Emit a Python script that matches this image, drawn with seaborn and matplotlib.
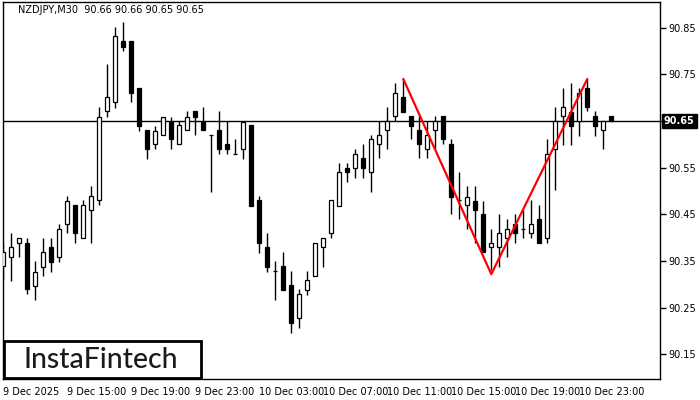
import matplotlib
matplotlib.use("Agg")
import matplotlib.pyplot as plt
import seaborn as sns
import numpy as np
import pandas as pd
from matplotlib.patches import Rectangle

# ---------------- data ----------------
opens = [90.340, 90.359, 90.389, 90.389, 90.297, 90.337, 90.380, 90.359, 90.430, 90.470,
         90.400, 90.459, 90.481, 90.671, 90.691, 90.821, 90.821, 90.721, 90.631, 90.601,
         90.620, 90.648, 90.601, 90.631, 90.671, 90.648, 90.620, 90.631, 90.601, 90.579,
         90.590, 90.641, 90.481, 90.380, 90.329, 90.340, 90.299, 90.228, 90.288, 90.318,
         90.380, 90.410, 90.468, 90.549, 90.549, 90.571, 90.541, 90.601, 90.631, 90.661,
         90.701, 90.661, 90.631, 90.590, 90.631, 90.661, 90.601, 90.481, 90.470, 90.479,
         90.451, 90.380, 90.380, 90.400, 90.430, 90.419, 90.410, 90.440, 90.400, 90.590,
         90.661, 90.669, 90.650, 90.721, 90.661, 90.631, 90.660]
highs = [90.389, 90.410, 90.400, 90.400, 90.350, 90.400, 90.400, 90.430, 90.489, 90.470,
         90.481, 90.511, 90.680, 90.772, 90.851, 90.862, 90.821, 90.721, 90.631, 90.639,
         90.659, 90.659, 90.650, 90.671, 90.671, 90.680, 90.620, 90.671, 90.650, 90.611,
         90.650, 90.641, 90.489, 90.410, 90.350, 90.370, 90.329, 90.290, 90.329, 90.389,
         90.400, 90.481, 90.560, 90.560, 90.590, 90.601, 90.620, 90.650, 90.680, 90.731,
         90.740, 90.661, 90.661, 90.650, 90.661, 90.661, 90.611, 90.541, 90.511, 90.511,
         90.479, 90.419, 90.451, 90.440, 90.451, 90.459, 90.481, 90.470, 90.611, 90.680,
         90.721, 90.731, 90.721, 90.740, 90.671, 90.650, 90.660]
lows = [90.310, 90.307, 90.359, 90.280, 90.267, 90.318, 90.327, 90.348, 90.410, 90.389,
        90.400, 90.389, 90.470, 90.659, 90.678, 90.800, 90.691, 90.629, 90.569, 90.590,
        90.620, 90.590, 90.601, 90.631, 90.620, 90.631, 90.498, 90.579, 90.579, 90.579,
        90.569, 90.468, 90.367, 90.327, 90.267, 90.288, 90.196, 90.207, 90.277, 90.318,
        90.337, 90.400, 90.468, 90.519, 90.528, 90.528, 90.498, 90.571, 90.590, 90.650,
        90.669, 90.611, 90.571, 90.571, 90.590, 90.601, 90.451, 90.440, 90.419, 90.389,
        90.370, 90.331, 90.337, 90.359, 90.389, 90.400, 90.400, 90.389, 90.389, 90.502,
        90.599, 90.599, 90.618, 90.671, 90.618, 90.590, 90.650]
closes = [90.370, 90.380, 90.400, 90.290, 90.327, 90.370, 90.348, 90.419, 90.479, 90.410,
          90.470, 90.489, 90.659, 90.701, 90.832, 90.808, 90.710, 90.639, 90.590, 90.629,
          90.659, 90.611, 90.641, 90.659, 90.659, 90.631, 90.620, 90.590, 90.590, 90.579,
          90.648, 90.468, 90.389, 90.337, 90.329, 90.288, 90.218, 90.280, 90.310, 90.389,
          90.400, 90.481, 90.541, 90.541, 90.579, 90.549, 90.611, 90.620, 90.650, 90.710,
          90.669, 90.639, 90.601, 90.620, 90.650, 90.611, 90.487, 90.481, 90.487, 90.459,
          90.370, 90.389, 90.410, 90.419, 90.410, 90.419, 90.430, 90.389, 90.579, 90.650,
          90.680, 90.639, 90.710, 90.680, 90.639, 90.650, 90.650]

pattern_bars = [50, 61, 73]
pattern_prices = [90.740, 90.322, 90.740]

price_ticks = [90.15, 90.25, 90.35, 90.45, 90.55, 90.75, 90.85]
current_price = 90.65
time_tick_bars = [0, 8, 16, 24, 32, 40, 48, 56, 64, 72]
time_tick_labels = ["9 Dec 2025", "9 Dec 15:00", "9 Dec 19:00", "9 Dec 23:00",
                    "10 Dec 03:00", "10 Dec 07:00", "10 Dec 11:00", "10 Dec 15:00",
                    "10 Dec 19:00", "10 Dec 23:00"]
title_text = "NZDJPY,M30  90.66 90.66 90.65 90.65"
logo_text = "InstaFintech"

# ---------------- figure ----------------
sns.set_style("white")
plt.rcParams['font.family'] = ['DejaVu Sans']

W, H = 700, 400
fig = plt.figure(figsize=(7, 4), dpi=100)
left, right, top, bottom = 2.5, 660, 2, 379
ax = fig.add_axes([left / W, 1 - bottom / H, (right - left) / W, (bottom - top) / H])

df = pd.DataFrame({"o": opens, "h": highs, "l": lows, "c": closes})
df["x"] = np.arange(len(df))
df["bull"] = df["c"] >= df["o"]

ax.set_xlim(-0.1, 82.09)
ax.set_ylim(90.0975, 90.9048)

# current price line
ax.axhline(current_price, color="black", lw=1, zorder=1)

# wicks
ax.vlines(df["x"], df["l"], df["h"], color="black", lw=1, zorder=2)
# bodies
body_bottom = np.minimum(df["o"], df["c"])
body_h = np.maximum(np.abs(df["c"] - df["o"]), 0.0004)
colors = np.where(df["bull"], "white", "black")
ax.bar(df["x"], body_h, bottom=body_bottom, width=0.45, color=colors,
       edgecolor="black", linewidth=0.9, zorder=3)

# double-bottom pattern
sns.lineplot(x=pattern_bars, y=pattern_prices, ax=ax, color="#ff0000", lw=1.6,
             sort=False, zorder=4)

# axes styling
for s in ax.spines.values():
    s.set_color("black")
    s.set_linewidth(1)
    s.set_visible(True)

ax.yaxis.tick_right()
ax.set_yticks(price_ticks + [current_price])
ax.set_yticklabels([f"{v:.2f}" for v in price_ticks] + [""])
ax.tick_params(axis="y", direction="out", length=4, width=1, color="black",
               labelsize=7, pad=2, labelcolor="black")
ax.set_xticks(time_tick_bars)
ax.set_xticklabels(time_tick_labels, ha="left")
ax.tick_params(axis="x", direction="out", length=4, width=1, color="black",
               labelsize=7, pad=2, labelcolor="black")
for lbl in ax.get_xticklabels():
    lbl.set_horizontalalignment("left")
ax.set_xlabel("")
ax.set_ylabel("")

# current price box
ax.text(1.006, current_price, f"{current_price:.2f}", transform=ax.get_yaxis_transform(),
        ha="left", va="center", fontsize=7, color="white", fontweight="bold",
        bbox=dict(boxstyle="square,pad=0.25", facecolor="black", edgecolor="black"),
        clip_on=False, zorder=10)

# title
fig.text(18 / W, 1 - 10 / H, title_text, fontsize=7, color="black", ha="left", va="center")

# logo
fig.patches.append(Rectangle((3.5 / W, 1 - 378 / H), 197 / W, 37.5 / H,
                             transform=fig.transFigure, facecolor="white",
                             edgecolor="black", linewidth=2, zorder=20))
fig.text(101 / W, 1 - 360 / H, logo_text, fontsize=20.5, color="#1a1a1a",
         family=["Lato", "DejaVu Sans"], fontweight="medium",
         ha="center", va="center", zorder=21)

fig.savefig("out.png", dpi=100)
